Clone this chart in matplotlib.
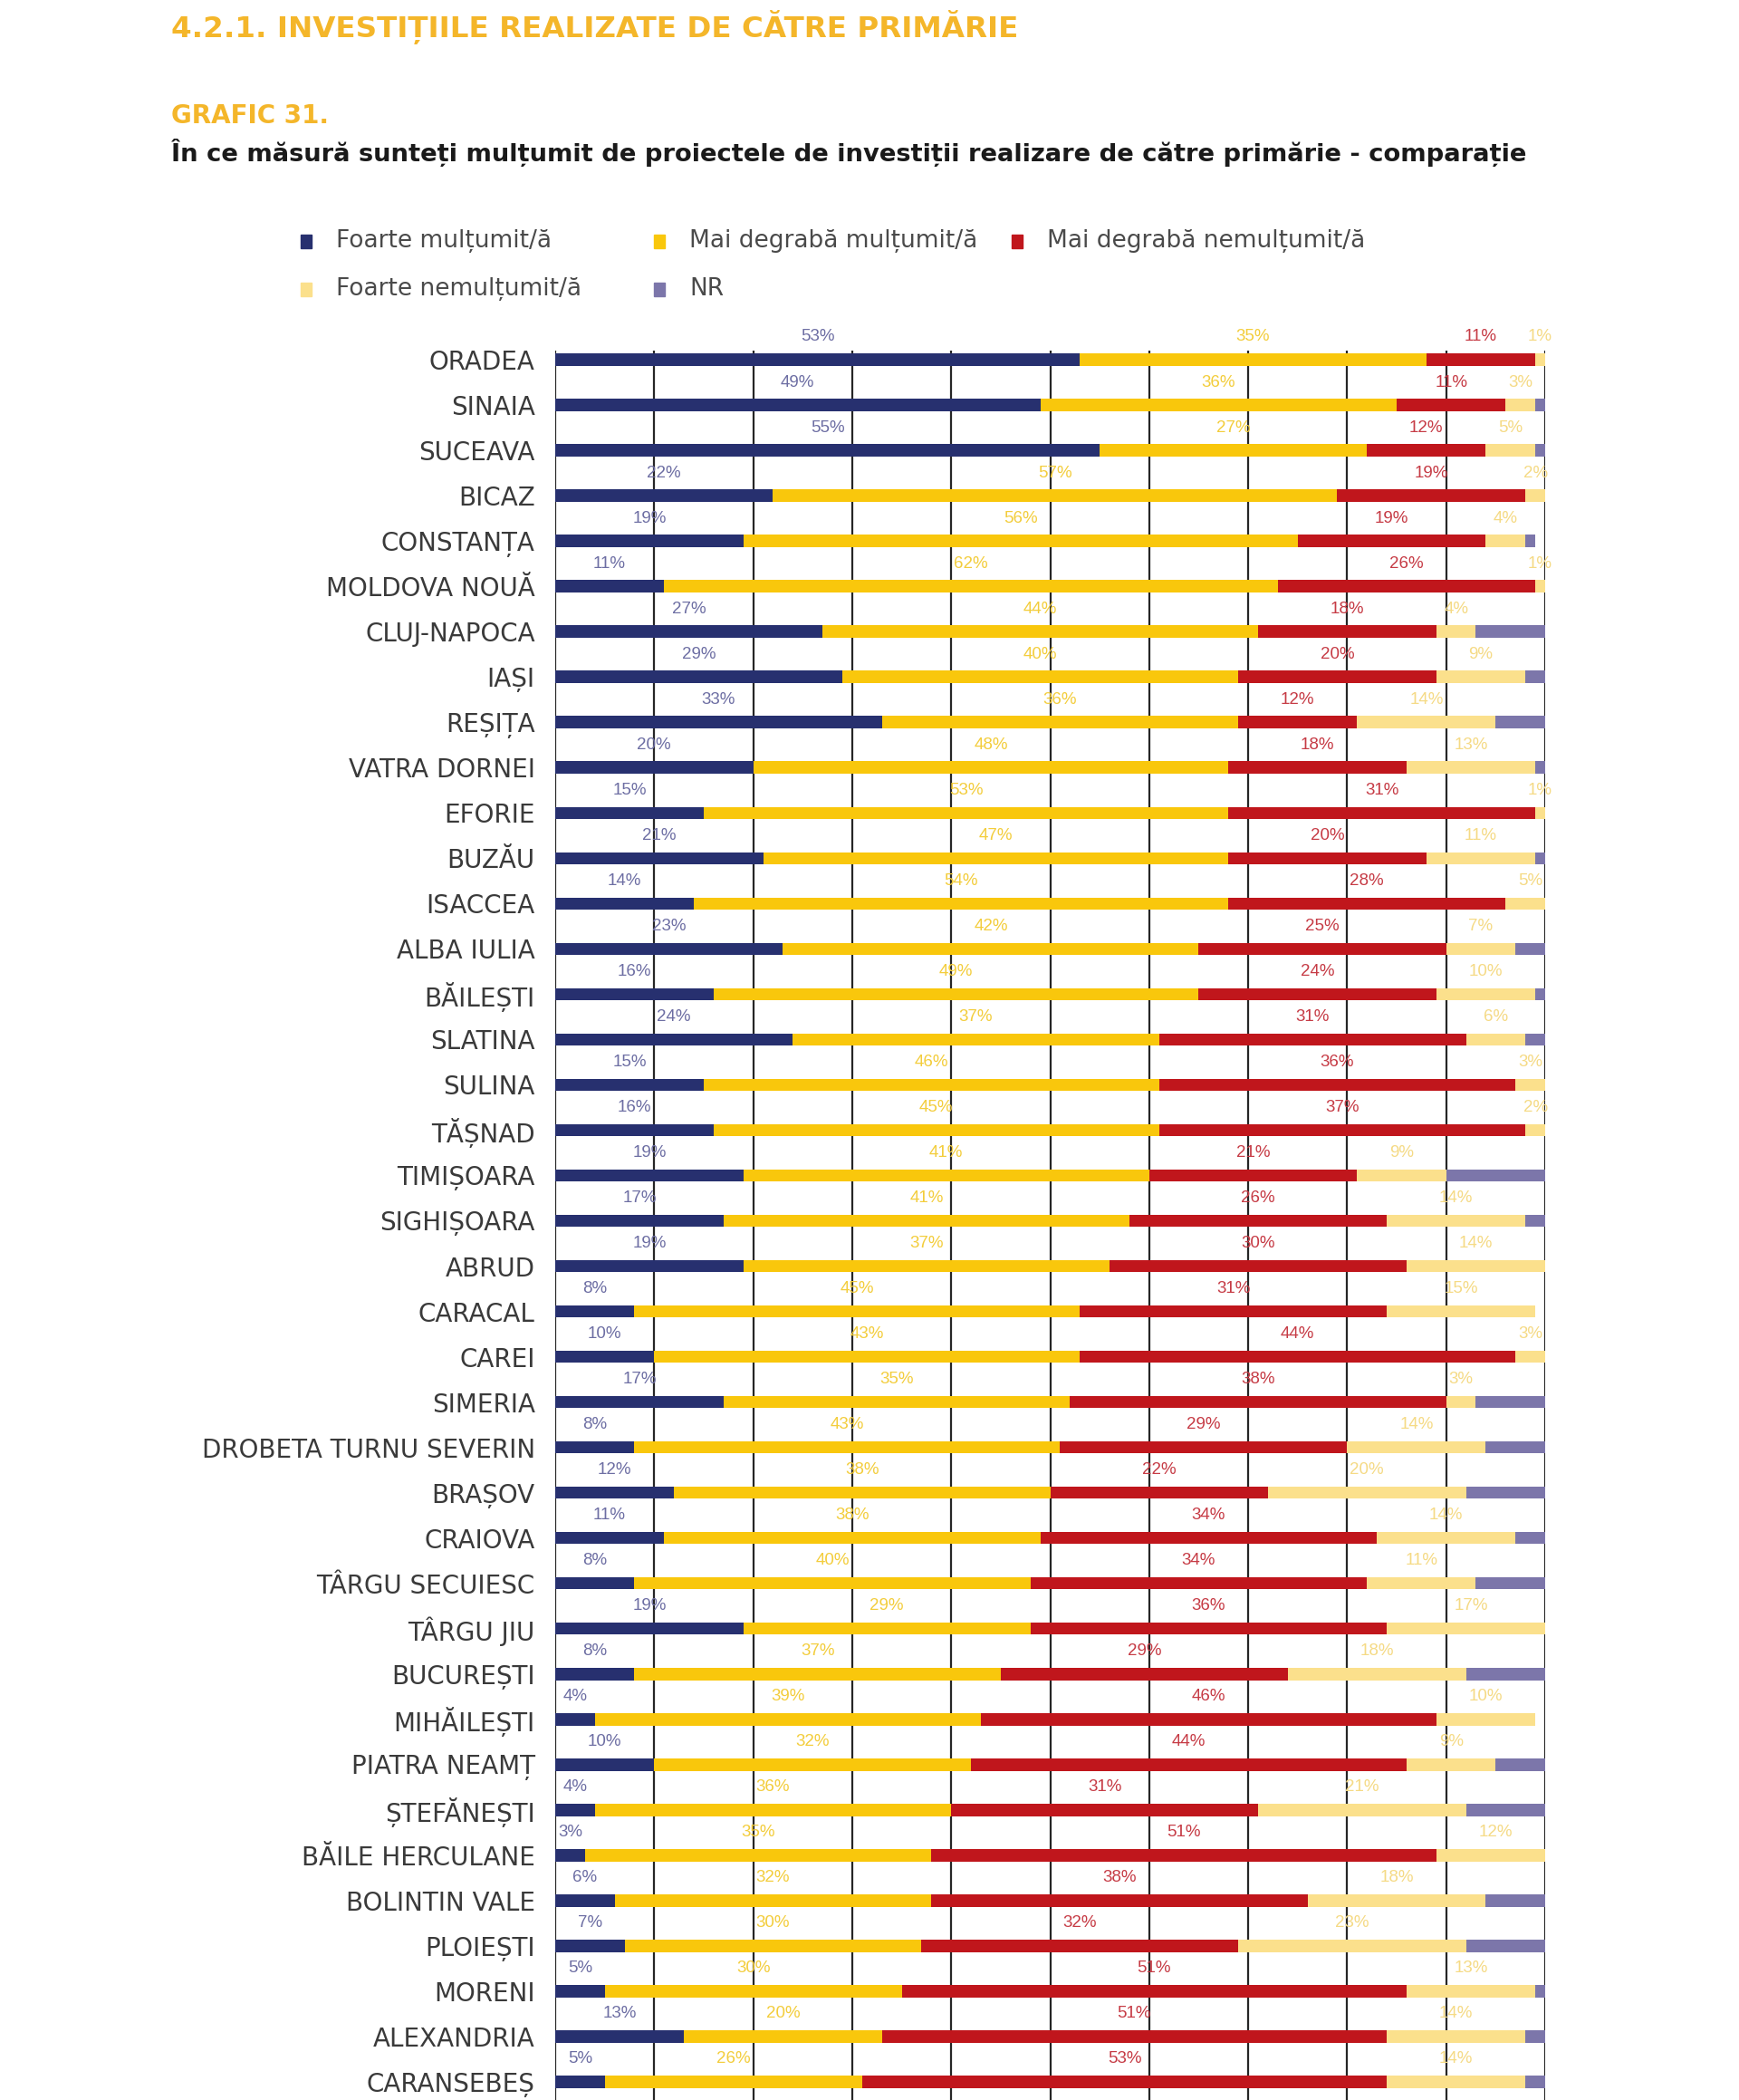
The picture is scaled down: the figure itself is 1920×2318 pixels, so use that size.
import numpy as np
import matplotlib.pyplot as plt
from matplotlib.patches import Rectangle

# date grafic 31
orase = ["ORADEA", "SINAIA", "SUCEAVA", "BICAZ", "CONSTANȚA", "MOLDOVA NOUĂ",
         "CLUJ-NAPOCA", "IAȘI", "REȘIȚA", "VATRA DORNEI", "EFORIE", "BUZĂU",
         "ISACCEA", "ALBA IULIA", "BĂILEȘTI", "SLATINA", "SULINA", "TĂȘNAD",
         "TIMIȘOARA", "SIGHIȘOARA", "ABRUD", "CARACAL", "CAREI", "SIMERIA",
         "DROBETA TURNU SEVERIN", "BRAȘOV", "CRAIOVA", "TÂRGU SECUIESC",
         "TÂRGU JIU", "BUCUREȘTI", "MIHĂILEȘTI", "PIATRA NEAMȚ", "ȘTEFĂNEȘTI",
         "BĂILE HERCULANE", "BOLINTIN VALE", "PLOIEȘTI", "MORENI", "ALEXANDRIA",
         "CARANSEBEȘ"]
foarte_multumit = [53, 49, 55, 22, 19, 11, 27, 29, 33, 20, 15, 21, 14, 23, 16, 24, 15, 16, 19, 17,
                   19, 8, 10, 17, 8, 12, 11, 8, 19, 8, 4, 10, 4, 3, 6, 7, 5, 13, 5]
degraba_multumit = [35, 36, 27, 57, 56, 62, 44, 40, 36, 48, 53, 47, 54, 42, 49, 37, 46, 45, 41, 41,
                    37, 45, 43, 35, 43, 38, 38, 40, 29, 37, 39, 32, 36, 35, 32, 30, 30, 20, 26]
degraba_nemultumit = [11, 11, 12, 19, 19, 26, 18, 20, 12, 18, 31, 20, 28, 25, 24, 31, 36, 37, 21, 26,
                      30, 31, 44, 38, 29, 22, 34, 34, 36, 29, 46, 44, 31, 51, 38, 32, 51, 51, 53]
foarte_nemultumit = [1, 3, 5, 2, 4, 1, 4, 9, 14, 13, 1, 11, 5, 7, 10, 6, 3, 2, 9, 14,
                     14, 15, 3, 3, 14, 20, 14, 11, 17, 18, 10, 9, 21, 12, 18, 23, 13, 14, 14]
nr = [1, 1, 1, 0, 1, 0, 7, 2, 5, 1, 0, 1, 0, 3, 1, 2, 0, 0, 10, 2,
      1, 0, 0, 7, 6, 8, 3, 7, 0, 8, 0, 5, 8, 0, 6, 8, 1, 2, 2]

serii = [foarte_multumit, degraba_multumit, degraba_nemultumit, foarte_nemultumit, nr]
nume = ["Foarte mulțumit/ă", "Mai degrabă mulțumit/ă", "Mai degrabă nemulțumit/ă",
        "Foarte nemulțumit/ă", "NR"]
culori = ["#27306f", "#f9c70c", "#c0161c", "#fbe08c", "#7c76aa"]
culori_text = ["#6d6ea3", "#f3cd3c", "#c63b45", "#f5da85", None]

W, H = 1920, 2318
fig = plt.figure(figsize=(W / 100, H / 100), dpi=100)

def fx(px):
    return px / W

def fy(py):
    return 1 - py / H

ax = fig.add_axes([fx(613), 0, fx(1706) - fx(613), fy(387)])

y = np.arange(len(orase))
for v in range(0, 101, 10):
    ax.axvline(v, color="#262626", lw=1.6, zorder=0)

stanga = np.zeros(len(orase))
for vals, col, tcol in zip(serii, culori, culori_text):
    vals = np.array(vals, dtype=float)
    ax.barh(y, vals, left=stanga, height=0.27, color=col, zorder=2)
    if tcol is not None:
        for yi, (l, w) in enumerate(zip(stanga, vals)):
            ax.text(l + w / 2, yi - 0.5, f"{int(w)}%", ha="center", va="center",
                    fontsize=13.5, color=tcol, clip_on=False, family="Liberation Sans")
    stanga += vals

ax.set_xlim(0, 100)
ax.set_ylim(38.4, -0.2)
ax.set_yticks(y)
ax.set_yticklabels(orase, fontsize=20, color="#3a3a3a")
ax.tick_params(axis="y", length=0, pad=16)
ax.set_xticks([])
for s in ax.spines.values():
    s.set_visible(False)

# titluri
fig.text(fx(189), fy(30), "4.2.1. INVESTIȚIILE REALIZATE DE CĂTRE PRIMĂRIE",
         fontsize=23.4, fontweight="bold", color="#f4b62a", va="center")
fig.text(fx(189), fy(128), "GRAFIC 31.", fontsize=20, fontweight="bold",
         color="#f4b62a", va="center")
fig.text(fx(189), fy(168),
         "În ce măsură sunteți mulțumit de proiectele de investiții realizare de către primărie - comparație",
         fontsize=19.7, fontweight="bold", color="#1a1a1a", va="center")

# legenda
poz = [(338, 266), (728, 266), (1123, 266), (338, 319), (728, 319)]
for (px, py), n, c in zip(poz, nume, culori):
    fig.add_artist(Rectangle((fx(px - 6), fy(py + 8)), 12 / W, 15 / H,
                             transform=fig.transFigure, color=c))
    fig.text(fx(px + 33), fy(py), n, fontsize=19, color="#4a4a4a", va="center")

fig.savefig("out.png", dpi=100, facecolor="white")
